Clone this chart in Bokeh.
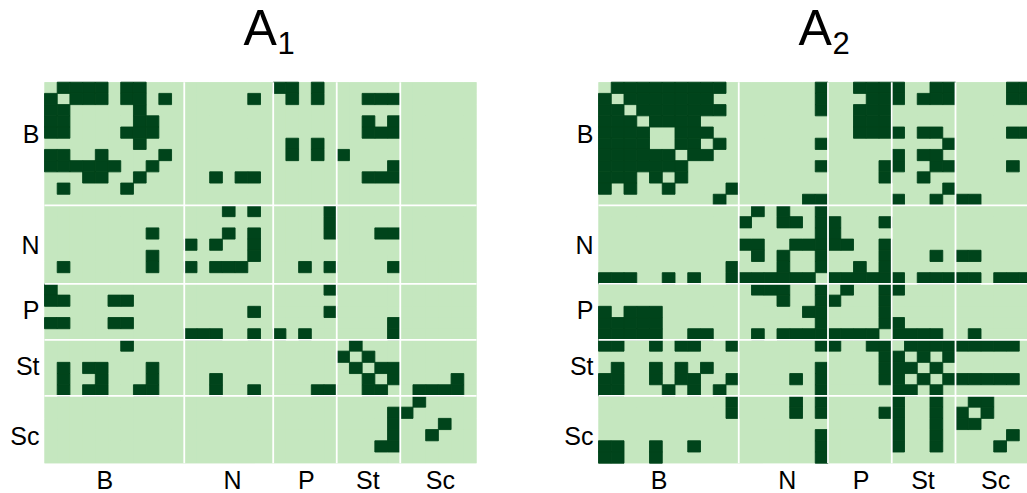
from bokeh.plotting import figure
from bokeh.models import Range1d
from bokeh.layouts import row
from bokeh.embed import file_html
from bokeh.resources import INLINE
from bokeh.core.properties import value

# ---------------- data ----------------
groups = ["B", "N", "P", "St", "Sc"]
group_sizes = [11, 7, 5, 5, 6]
# label positions along the axes, in node units
x_label_pos = [4.75, 14.8, 20.6, 25.45, 31.15]
y_label_pos = [4.67, 14.6, 20.4, 25.45, 31.7]

# neighbours of each node (row index -> dark columns)
A1_neighbors = [
    [1, 2, 3, 4, 6, 7, 18, 19, 21],
    [0, 2, 3, 4, 6, 7, 9, 16, 19, 21, 25, 26, 27],
    [0, 1, 7],
    [0, 1, 7, 8, 25, 27],
    [0, 1, 6, 7, 8, 25, 26, 27],
    [7, 19, 21],
    [0, 1, 4, 9, 19, 21, 23],
    [0, 1, 2, 3, 4, 5, 8, 27],
    [3, 4, 7, 13, 15, 16, 25, 26, 27],
    [1, 6],
    [],
    [14, 16, 22],
    [22],
    [8, 14, 16, 22, 26, 27],
    [11, 13, 16],
    [8, 16],
    [1, 8, 11, 13, 14, 15, 20, 22, 27],
    [],
    [0, 22],
    [0, 1, 5, 6],
    [16, 22],
    [0, 1, 5, 6, 27],
    [11, 12, 13, 16, 18, 20, 27],
    [6, 24],
    [23, 25],
    [1, 3, 4, 8, 24, 26, 27],
    [1, 4, 8, 13, 25, 27, 32],
    [1, 3, 4, 7, 8, 13, 16, 21, 22, 25, 26, 29, 30, 31, 32],
    [29],
    [27, 28],
    [27, 31],
    [27, 30],
    [26, 27],
    [],
]

A2_neighbors = [
    [1, 2, 3, 4, 5, 6, 7, 8, 9, 17, 20, 21, 22, 23, 26, 27, 32, 33],
    [0, 2, 3, 4, 5, 6, 7, 8, 17, 21, 22, 23, 25, 26, 27, 32, 33],
    [0, 1, 3, 4, 5, 6, 7, 8, 9, 17, 20, 21, 22],
    [0, 1, 2, 4, 5, 6, 7, 20, 21, 22],
    [0, 1, 2, 3, 6, 7, 8, 20, 21, 22, 23, 25, 26, 32, 33],
    [0, 1, 2, 3, 6, 7, 9, 17, 27],
    [0, 1, 2, 3, 4, 5, 7, 8, 23, 25, 26],
    [0, 1, 2, 3, 4, 5, 6, 17, 22, 23, 26, 27, 32],
    [0, 1, 2, 4, 6, 22, 25],
    [0, 2, 5, 10, 27],
    [9, 16, 17, 23, 26, 28, 29],
    [12, 14, 17],
    [11, 14, 15, 17, 18, 22],
    [17, 18],
    [11, 12, 15, 16, 17, 18, 19, 22],
    [12, 14, 17, 22, 26, 28, 29],
    [10, 14, 17, 20, 22],
    [0, 1, 2, 5, 7, 10, 11, 12, 13, 14, 15, 16, 18, 19, 20, 21, 22, 23, 25,
     26, 27, 28, 29, 31, 32, 33],
    [12, 13, 14, 17, 19, 22, 23],
    [14, 17, 18, 22],
    [0, 2, 3, 4, 16, 17, 22],
    [0, 1, 2, 3, 4, 17, 22, 23],
    [0, 1, 2, 3, 4, 7, 8, 12, 14, 15, 16, 17, 18, 19, 20, 21, 23, 24, 25,
     26, 29],
    [0, 1, 4, 6, 7, 10, 17, 18, 21, 22, 24, 25, 26, 27, 28, 29, 30, 31, 32],
    [22, 23, 25, 27],
    [1, 4, 6, 8, 17, 22, 23, 24, 26],
    [0, 1, 4, 6, 7, 10, 15, 17, 22, 23, 25, 27, 28, 29, 30, 31, 32],
    [0, 1, 5, 7, 9, 17, 23, 24, 26],
    [10, 15, 17, 23, 26, 29, 30],
    [10, 15, 17, 22, 23, 26, 28, 30],
    [23, 26, 28, 29],
    [17, 23, 26, 32],
    [0, 1, 4, 7, 17, 23, 26, 31],
    [0, 1, 4, 17],
]

titles = [("A", "1"), ("A", "2")]

# ---------------- style / layout ----------------
LIGHT = "#c5e7bf"
DARK = "#00441b"
FONT = "Liberation Sans"
N_NODES = sum(group_sizes)
FIG_H = 493
PAGE_TOP = 0
MAT_TOP = 81.7       # page y of matrix top
MAT_H = 381.0
ROW_PX = MAT_H / N_NODES
BASE_FIX = 0.40      # rendered baseline sits this many em lower than requested


def make_panel(nbrs, title, fig_left, fig_w, mat_left, col_px, title_a_left, sub_left):
    def xd(page_x):
        return (page_x - mat_left) / col_px

    def yd(page_y):
        return (page_y - MAT_TOP) / ROW_PX

    def base(page_y, size):
        return yd(page_y - BASE_FIX * size)

    p = figure(width=fig_w, height=FIG_H, output_backend="svg", toolbar_location=None,
               x_range=Range1d(xd(fig_left), xd(fig_left + fig_w)),
               y_range=Range1d(yd(PAGE_TOP + FIG_H), yd(PAGE_TOP)),
               x_axis_location=None, y_axis_location=None,
               min_border=0, min_border_left=0, min_border_right=0,
               min_border_top=0, min_border_bottom=0)
    p.outline_line_color = None
    p.grid.visible = False
    p.background_fill_color = "white"
    p.border_fill_color = "white"

    lx, ly, dx, dy = [], [], [], []
    for r in range(N_NODES):
        for c in range(N_NODES):
            if c in nbrs[r]:
                dx.append(c + 0.5)
                dy.append(r + 0.5)
            else:
                lx.append(c + 0.5)
                ly.append(r + 0.5)
    p.quad(left=[0], right=[N_NODES], top=[0], bottom=[N_NODES],
           fill_color=LIGHT, line_color=None)
    p.rect(x=lx, y=ly, width=1, height=1, fill_color=LIGHT, line_color=None)
    p.rect(x=dx, y=dy, width=1, height=1, fill_color=DARK,
           line_color=DARK, line_width=0.9)

    # white separators between groups
    bounds = []
    acc = 0
    for s in group_sizes[:-1]:
        acc += s
        bounds.append(acc)
    p.segment(x0=bounds, y0=[0] * len(bounds), x1=bounds, y1=[N_NODES] * len(bounds),
              line_color="white", line_width=1.8)
    p.segment(x0=[0] * len(bounds), y0=bounds, x1=[N_NODES] * len(bounds), y1=bounds,
              line_color="white", line_width=1.8)

    # axis labels (font 25px, cap height ~18px)
    fs = 25
    p.text(x=[xd(mat_left - 5)] * len(groups),
           y=[base(MAT_TOP + v * ROW_PX + 9.0, fs) for v in y_label_pos], text=groups,
           text_font=value(FONT), text_font_size=f"{fs}px", text_color="black",
           text_align="right", text_baseline="alphabetic")
    p.text(x=x_label_pos, y=[base(489, fs)] * len(groups), text=groups,
           text_font=value(FONT), text_font_size=f"{fs}px", text_color="black",
           text_align="center", text_baseline="alphabetic")

    # title A with subscript
    p.text(x=[xd(title_a_left)], y=[base(47, 50)], text=[title[0]],
           text_font=value(FONT), text_font_size="50px", text_color="black",
           text_align="left", text_baseline="alphabetic")
    p.text(x=[xd(sub_left)], y=[base(55, 31)], text=[title[1]],
           text_font=value(FONT), text_font_size="31px", text_color="black",
           text_align="left", text_baseline="alphabetic")
    return p


p1 = make_panel(A1_neighbors, titles[0], fig_left=0, fig_w=538, mat_left=44.0,
                col_px=432.0 / N_NODES, title_a_left=243, sub_left=277)
p2 = make_panel(A2_neighbors, titles[1], fig_left=538, fig_w=489, mat_left=598.0,
                col_px=12.75, title_a_left=798, sub_left=832)

layout = row(p1, p2)
open("out.html", "w").write(file_html(layout, INLINE))
